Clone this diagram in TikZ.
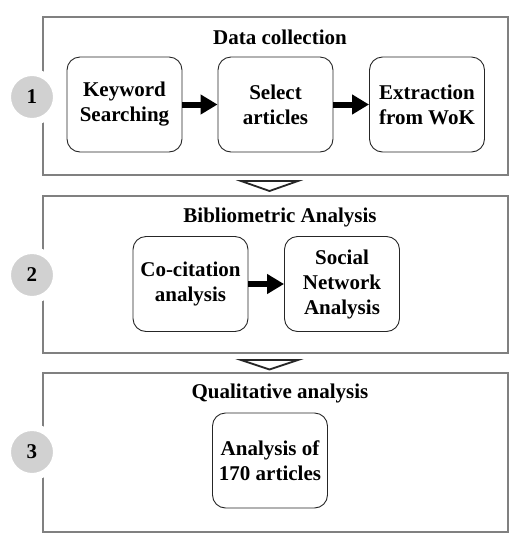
\documentclass[tikz,border=0pt]{standalone}
\usepackage{fontspec}
\setmainfont{Liberation Serif}
\usetikzlibrary{arrows.meta}

\begin{document}
\begin{tikzpicture}[x=1pt,y=-1pt]
\tikzset{
  panel/.style={draw=black!50,line width=1.2pt,minimum width=465pt,inner sep=0pt},
  stepbox/.style={draw=black!85,line width=0.9pt,rounded corners=13pt,minimum width=115pt,minimum height=95pt,
    align=center,font=\fontsize{21}{25}\selectfont\bfseries},
  title/.style={font=\fontsize{21}{25}\selectfont\bfseries},
  stepnum/.style={circle,fill=black!18,draw=white,line width=7pt,minimum size=49pt,inner sep=0pt,
    font=\fontsize{21}{25}\selectfont\bfseries},
  flow/.style={-{Triangle[length=17pt,width=19pt]},line width=6pt},
  downtri/.style={draw=black!85,line width=1.8pt,fill=white,line join=miter}
}
\useasboundingbox (0,0) rectangle (527,550);
% panels
\node[panel,minimum height=158pt] (p_1) at (275.5,96) {};
\node[panel,minimum height=157pt] (p_2) at (275.5,274.5) {};
\node[panel,minimum height=159pt] (p_3) at (275.5,452.5) {};
% step numbers
\node[stepnum] (s_1) at (32,97) {1};
\node[stepnum] (s_2) at (32,275) {2};
\node[stepnum] (s_3) at (32,452) {3};
% titles
\node[title] (t_1) at (280,37) {Data collection};
\node[title] (t_2) at (280,217) {Bibliometric Analysis};
\node[title] (t_3) at (280,393) {Qualitative analysis};
% boxes
\node[stepbox] (n_key) at (124.5,104.5) {Keyword\\Searching};
\node[stepbox] (n_sel) at (275.5,104.5) {Select\\articles};
\node[stepbox] (n_ext) at (427,104.5) {Extraction\\from WoK};
\node[stepbox] (n_coc) at (190.5,284) {Co-citation\\analysis};
\node[stepbox] (n_sna) at (342,284) {Social\\Network\\Analysis};
\node[stepbox] (n_qua) at (270,460.5) {Analysis of\\170 articles};
% arrows
\draw[flow] (n_key) -- (n_sel);
\draw[flow] (n_sel) -- (n_ext);
\draw[flow] (n_coc) -- (n_sna);
% between panels
\draw[downtri] (241,181) -- (298,181) -- (269.5,191) -- cycle;
\draw[downtri] (241,360) -- (298,360) -- (269.5,369.5) -- cycle;
\end{tikzpicture}
\end{document}
